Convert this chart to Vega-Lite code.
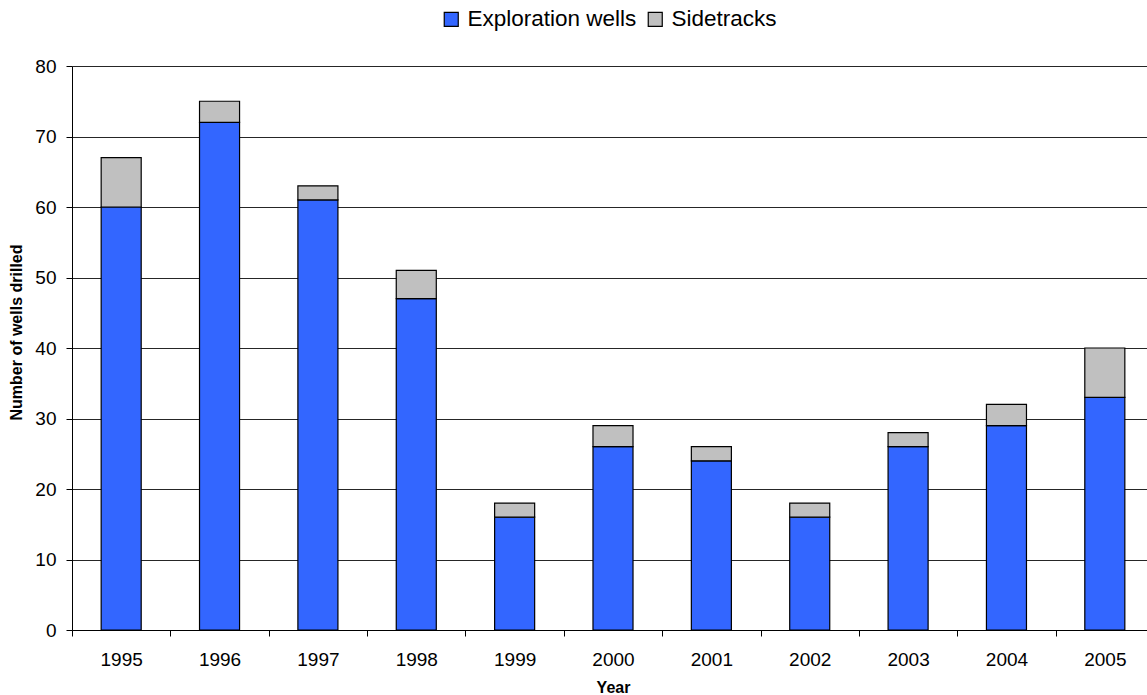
{
  "$schema": "https://vega.github.io/schema/vega-lite/v6.json",
  "autosize": {"type": "none"},
  "padding": {"left": 72, "top": 66, "right": 0, "bottom": 65},
  "width": 1082,
  "height": 564,
  "background": "white",
  "config": {
    "font": "Liberation Sans",
    "view": {"stroke": null}
  },
  "data": {
    "values": [
      {"year": "1995", "type": "Exploration wells", "wells": 60},
      {"year": "1995", "type": "Sidetracks", "wells": 7},
      {"year": "1996", "type": "Exploration wells", "wells": 72},
      {"year": "1996", "type": "Sidetracks", "wells": 3},
      {"year": "1997", "type": "Exploration wells", "wells": 61},
      {"year": "1997", "type": "Sidetracks", "wells": 2},
      {"year": "1998", "type": "Exploration wells", "wells": 47},
      {"year": "1998", "type": "Sidetracks", "wells": 4},
      {"year": "1999", "type": "Exploration wells", "wells": 16},
      {"year": "1999", "type": "Sidetracks", "wells": 2},
      {"year": "2000", "type": "Exploration wells", "wells": 26},
      {"year": "2000", "type": "Sidetracks", "wells": 3},
      {"year": "2001", "type": "Exploration wells", "wells": 24},
      {"year": "2001", "type": "Sidetracks", "wells": 2},
      {"year": "2002", "type": "Exploration wells", "wells": 16},
      {"year": "2002", "type": "Sidetracks", "wells": 2},
      {"year": "2003", "type": "Exploration wells", "wells": 26},
      {"year": "2003", "type": "Sidetracks", "wells": 2},
      {"year": "2004", "type": "Exploration wells", "wells": 29},
      {"year": "2004", "type": "Sidetracks", "wells": 3},
      {"year": "2005", "type": "Exploration wells", "wells": 33},
      {"year": "2005", "type": "Sidetracks", "wells": 7}
    ]
  },
  "mark": {"type": "bar", "stroke": "black", "strokeWidth": 1.2, "width": {"band": 0.407}},
  "encoding": {
    "x": {
      "field": "year",
      "type": "ordinal",
      "scale": {"paddingInner": 0, "paddingOuter": 0},
      "axis": {
        "title": "Year",
        "titleFontSize": 16,
        "titleFontWeight": "bold",
        "titleColor": "black",
        "titlePadding": 10,
        "labelFontSize": 19,
        "labelFontWeight": "normal",
        "labelColor": "black",
        "labelAngle": 0,
        "labelPadding": 14,
        "tickBand": "extent",
        "tickColor": "black",
        "tickSize": 6,
        "domainColor": "black",
        "grid": false
      }
    },
    "y": {
      "field": "wells",
      "type": "quantitative",
      "stack": "zero",
      "scale": {"domain": [0, 80]},
      "axis": {
        "title": "Number of wells drilled",
        "titleFontSize": 16,
        "titleFontWeight": "bold",
        "titleColor": "black",
        "titlePadding": 10,
        "titleY": 266,
        "values": [0, 10, 20, 30, 40, 50, 60, 70, 80],
        "labelFontSize": 19,
        "labelColor": "black",
        "labelPadding": 10,
        "tickColor": "black",
        "tickSize": 6,
        "domainColor": "black",
        "grid": true,
        "gridColor": "black",
        "gridOpacity": 0.85
      }
    },
    "color": {
      "field": "type",
      "type": "nominal",
      "scale": {"domain": ["Exploration wells", "Sidetracks"], "range": ["#3366FF", "#C0C0C0"]},
      "legend": {
        "title": null,
        "orient": "none",
        "direction": "horizontal",
        "legendX": 368,
        "legendY": -58,
        "symbolType": "square",
        "symbolSize": 196,
        "symbolStrokeColor": "black",
        "symbolStrokeWidth": 1.2,
        "labelFontSize": 22.5,
        "labelLimit": 400,
        "labelColor": "black",
        "labelOffset": 5,
        "columnPadding": 7
      }
    },
    "order": {"field": "type", "sort": "ascending"}
  }
}
